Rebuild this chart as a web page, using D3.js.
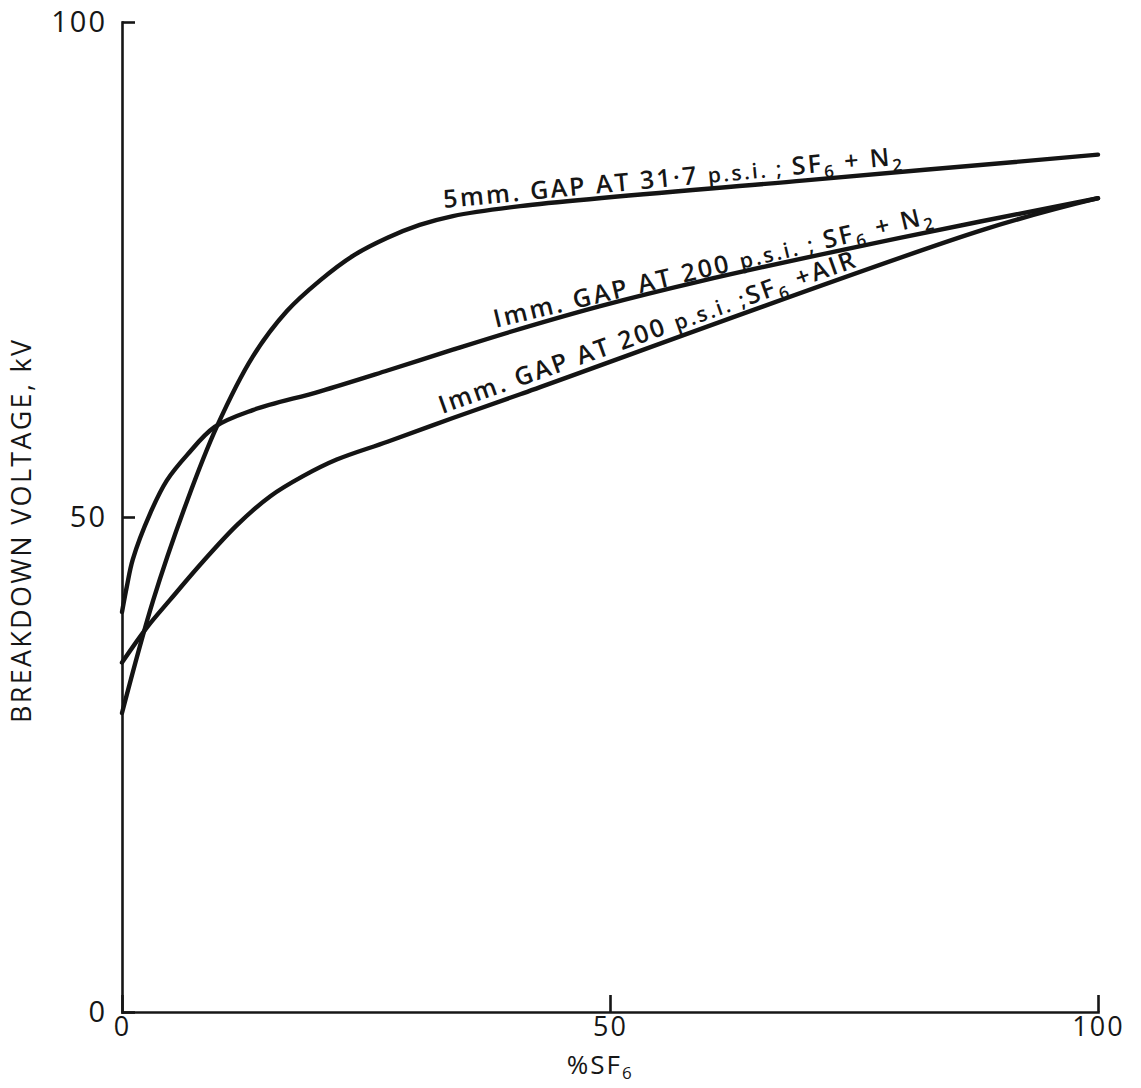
<!DOCTYPE html>
<html>
<head>
<meta charset="utf-8">
<script src="https://cdn.jsdelivr.net/npm/d3@7"></script>
<style>
  body { margin: 0; background: #fff; }
  svg { display: block; }
  .axis path, .axis line { stroke: #161616; stroke-width: 2.6; }
  .axis text { font-family: "Open Sans", sans-serif; font-size: 29px; fill: #161616; letter-spacing: 2px; }
  .xaxis text { font-size: 27px; }
</style>
</head>
<body>
<svg id="chart" width="1141" height="1088"></svg>
<script>
// % SF6 in mixture / breakdown voltage (kV)
const pct5mmN2 = [0, 3.2, 6.7, 9.7, 13.4, 16.9, 20.3, 23.7, 27.2, 30.5, 33.9, 40.8, 70, 100];
const kv5mmN2  = [30.2, 41.6, 51.7, 59.1, 66.2, 70.8, 73.9, 76.4, 78.2, 79.5, 80.4, 81.4, 84.0, 86.6];

const pct1mmN2 = [0, 0.5, 1.1, 2.9, 4.6, 6.7, 9.5, 13.4, 20.3, 27.2, 33.9, 40.8, 49, 59.2, 79.7, 100];
const kv1mmN2  = [40.4, 43.0, 45.7, 50.4, 53.7, 56.3, 59.1, 60.8, 62.7, 64.8, 66.9, 69.0, 71.3, 73.8, 78.2, 82.2];

const pct1mmAir = [0, 2.6, 4.9, 8.3, 11.8, 15.2, 18.5, 22.0, 27.2, 33.9, 40.8, 88.2, 100];
const kv1mmAir  = [35.3, 38.9, 41.6, 45.5, 49.2, 52.1, 54.1, 55.8, 57.6, 60.0, 62.4, 79.0, 82.2];

const xTicks = [0, 50, 100];
const yTicks = [0, 50, 100];

const svg = d3.select('#chart')
const x = d3.scaleLinear().domain([0, 100]).range([122, 1098])
const y = d3.scaleLinear().domain([0, 100]).range([1012, 22])

svg.append('rect').attr('width', 1141).attr('height', 1088).attr('fill', '#fff')

// axes - ticks point inwards like the drawing
svg.append('g').attr('class', 'axis')
  .attr('transform', 'translate(' + x(0) + ',0)')
  .call(d3.axisLeft(y).tickValues(yTicks).tickSizeInner(-13).tickSizeOuter(0).tickPadding(15).tickFormat(d3.format('d')))

svg.append('g').attr('class', 'axis xaxis')
  .attr('transform', 'translate(0,' + y(0) + ')')
  .call(d3.axisBottom(x).tickValues(xTicks).tickSizeInner(-17).tickSizeOuter(0).tickPadding(5).tickFormat(d3.format('d')))

svg.selectAll('.axis .domain').attr('stroke-linecap', 'square')

// axis titles
svg.append('text')
  .attr('transform', 'translate(31,723) rotate(-90)')
  .attr('font-family', '"Open Sans", sans-serif').attr('font-size', 27).attr('fill', '#161616')
  .attr('textLength', 383).attr('lengthAdjust', 'spacing')
  .text('BREAKDOWN  VOLTAGE, kV')

const xTitle = svg.append('text')
  .attr('x', x(49)).attr('y', 1074)
  .attr('text-anchor', 'middle')
  .attr('font-family', '"Open Sans", sans-serif').attr('font-size', 26).attr('fill', '#161616')
  .attr('letter-spacing', 2)
xTitle.append('tspan').text('%SF')
xTitle.append('tspan').attr('font-size', 17).attr('dy', 5).text('6')

// curves
const line = d3.line().x(d => x(d[0])).y(d => y(d[1])).curve(d3.curveCatmullRom.alpha(0.5))
const series = [
  d3.zip(pct5mmN2, kv5mmN2),
  d3.zip(pct1mmN2, kv1mmN2),
  d3.zip(pct1mmAir, kv1mmAir)
]
svg.selectAll('path.curve')
  .data(series)
  .enter().append('path')
    .attr('class', 'curve')
    .attr('d', line)
    .attr('fill', 'none')
    .attr('stroke', '#141414')
    .attr('stroke-width', 4.4)
    .attr('stroke-linecap', 'round')

// labels written along each curve
function label(parts, at, from, to, lift, len) {
  const ang = Math.atan2(y(to[1]) - y(from[1]), x(to[0]) - x(from[0])) * 180 / Math.PI
  const t = svg.append('text')
    .attr('transform', 'translate(' + x(at[0]) + ',' + (y(at[1]) - lift) + ') rotate(' + ang + ')')
    .attr('font-family', '"Open Sans", sans-serif').attr('font-weight', 600)
    .attr('font-size', 25).attr('fill', '#161616')
    .attr('textLength', len).attr('lengthAdjust', 'spacing')
  parts.forEach(p => {
    t.append('tspan')
      .attr('font-size', p.sub ? 17 : (p.small ? 21 : 25))
      .attr('dy', p.sub ? 6 : (p.up ? -6 : 0))
      .text(p.t)
  })
}

label([{t: '5mm. GAP AT 31·7 '}, {t: 'p.s.i. ; ', small: true}, {t: 'SF'}, {t: '6', sub: true}, {t: ' + N', up: true}, {t: '2', sub: true}],
  [33.0, 80.5], [33.9, 80.4], [100, 86.6], 7, 460)

label([{t: 'Imm. GAP AT 200 '}, {t: 'p.s.i. ; ', small: true}, {t: 'SF'}, {t: '6', sub: true}, {t: ' + N', up: true}, {t: '2', sub: true}],
  [38.3, 68.3], [40.8, 69.0], [79.7, 78.2], 8, 450)

label([{t: 'Imm. GAP AT 200 '}, {t: 'p.s.i. ;', small: true}, {t: 'SF'}, {t: '6', sub: true}, {t: ' +AIR', up: true}],
  [32.8, 59.6], [33.9, 60.0], [88.2, 79.0], 8, 440)
</script>
</body>
</html>
